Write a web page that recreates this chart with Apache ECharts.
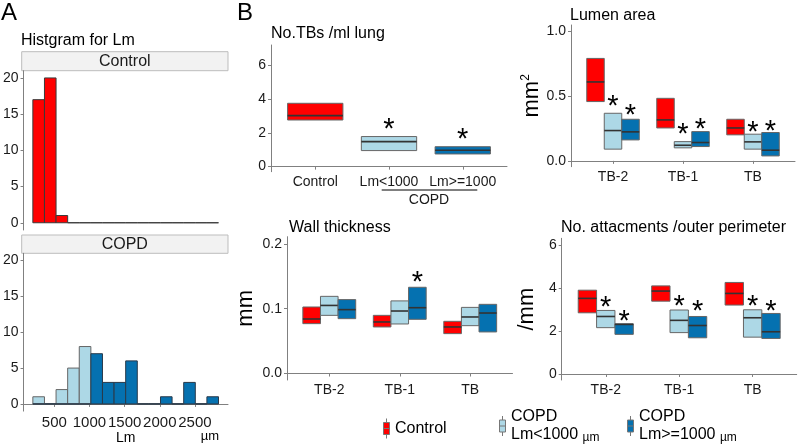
<!DOCTYPE html>
<html>
<head>
<meta charset="utf-8">
<script src="https://cdn.jsdelivr.net/npm/echarts@6/dist/echarts.min.js"></script>
<style>html,body{margin:0;padding:0;background:#fff}#c{width:800px;height:446px}</style>
</head>
<body>
<div id="c"></div>
<script>
// ---------- DATA ----------
// Panel A histogram
const histBinEdges = [195, 360, 525, 690, 855, 1020, 1185, 1350, 1515, 1680, 1845, 2010, 2175, 2340, 2505, 2670, 2835];
const histControl = [17, 20, 1, 0, 0, 0, 0, 0, 0, 0, 0, 0, 0, 0, 0, 0];
const histCopdLow = [1, 0, 2, 5, 8, 0, 0, 0, 0, 0, 0, 0, 0, 0, 0, 0];
const histCopdHigh = [0, 0, 0, 0, 0, 7, 3, 3, 6, 0, 0, 1, 0, 3, 0, 1];
const histXTicks = [500, 1000, 1500, 2000, 2500];
const histYTicks = [0, 5, 10, 15, 20];

// Panel B: No.TBs /ml lung  [Q1, median, Q3]
const tbCats = ['Control', 'Lm<1000', 'Lm>=1000'];
const tbControl = [2.76, 3.02, 3.75];
const tbLow = [0.95, 1.48, 1.78];
const tbHigh = [0.75, 0.97, 1.18];
const tbStars = [[2, 0, 2.57], [3, 0, 1.98]];
const tbYTicks = [0, 2, 4, 6];

// Airway generations
const genCats = ['TB-2', 'TB-1', 'TB'];

// Lumen area [Q1, median, Q3] per generation
const lumenControl = [[0.456, 0.607, 0.788], [0.253, 0.315, 0.481], [0.200, 0.253, 0.320]];
const lumenLow = [[0.090, 0.233, 0.366], [0.100, 0.120, 0.148], [0.090, 0.146, 0.205]];
const lumenHigh = [[0.161, 0.223, 0.320], [0.110, 0.141, 0.225], [0.038, 0.082, 0.218]];
const lumenStars = [[1, 0, 0.468], [1, 1, 0.397], [2, 0, 0.251], [2, 1, 0.294], [3, 0, 0.269], [3, 1, 0.276]];
const lumenYTicks = [0, 0.5, 1.0];

// Wall thickness
const wallControl = [[0.0769, 0.0841, 0.1026], [0.0718, 0.0795, 0.0897], [0.0615, 0.0718, 0.0805]];
const wallLow = [[0.0897, 0.105, 0.119], [0.0764, 0.0964, 0.112], [0.0738, 0.0872, 0.102]];
const wallHigh = [[0.0846, 0.0985, 0.114], [0.0836, 0.1015, 0.133], [0.0641, 0.0933, 0.1067]];
const wallStars = [[2, 1, 0.150]];
const wallYTicks = [0, 0.1, 0.2];

// No. attachments / outer perimeter
const attachControl = [[2.84, 3.51, 3.89], [3.38, 3.85, 4.09], [3.20, 3.74, 4.25]];
const attachLow = [[2.15, 2.67, 2.95], [1.92, 2.49, 2.97], [1.71, 2.61, 2.98]];
const attachHigh = [[1.84, 2.30, 2.33], [1.68, 2.25, 2.67], [1.65, 1.96, 2.81]];
const attachStars = [[1, 0, 3.38], [1, 1, 2.73], [2, 0, 3.43], [2, 1, 3.20], [3, 0, 3.43], [3, 1, 3.20]];
const attachYTicks = [0, 2, 4, 6];

// ---------- STYLE ----------
const FONT = '"Liberation Sans", Arial, sans-serif';
const C_RED = '#FF0000', C_LIGHT = '#ADD8E6', C_DARK = '#0571B0';
const AXIS_COLOR = '#808080';
const LABEL_COLOR = '#1a1a1a';
const STAR_DY = 7;

function histData(counts) {
  return counts.map((c, i) => [histBinEdges[i], histBinEdges[i + 1], c]);
}
function histRender(fill, stroke) {
  return function (params, api) {
    const p0 = api.coord([api.value(0), 0]);
    const p1 = api.coord([api.value(1), api.value(2)]);
    return {
      type: 'rect',
      shape: { x: p0[0], y: p1[1], width: p1[0] - p0[0], height: p0[1] - p1[1] },
      style: { fill: fill, stroke: stroke, lineWidth: 1 }
    };
  };
}
function boxRender(offset, widthFrac, fill) {
  return function (params, api) {
    const c1 = api.coord([api.value(0), api.value(1)]);
    const cm = api.coord([api.value(0), api.value(2)]);
    const c3 = api.coord([api.value(0), api.value(3)]);
    const band = api.size([1, 0])[0];
    const w = band * widthFrac;
    const cx = c1[0] + offset * band;
    return {
      type: 'group',
      children: [
        { type: 'rect', shape: { x: cx - w / 2, y: c3[1], width: w, height: c1[1] - c3[1] },
          style: { fill: fill, stroke: '#666666', lineWidth: 1 } },
        { type: 'line', shape: { x1: cx - w / 2, y1: cm[1], x2: cx + w / 2, y2: cm[1] },
          style: { stroke: '#333333', lineWidth: 1.6 } }
      ]
    };
  };
}
function starRender(params, api) {
  const c = api.coord([api.value(0), api.value(2)]);
  const band = api.size([1, 0])[0];
  return {
    type: 'text',
    x: c[0] + api.value(1) * 0.25 * band,
    y: c[1] + STAR_DY,
    style: { text: '*', fontSize: 29, fontFamily: FONT, fill: '#000', align: 'center', verticalAlign: 'middle' }
  };
}
function boxSeries(name, gridIdx, rows, offset, widthFrac, fill) {
  return {
    type: 'custom', name: name, xAxisIndex: gridIdx, yAxisIndex: gridIdx,
    renderItem: boxRender(offset, widthFrac, fill),
    encode: { x: 0, y: [1, 2, 3] },
    itemStyle: { color: fill },
    data: rows.map((r, i) => [i + 1, r[0], r[1], r[2]])
  };
}
function starSeries(gridIdx, stars) {
  return {
    type: 'custom', xAxisIndex: gridIdx, yAxisIndex: gridIdx,
    renderItem: starRender, encode: { x: 0, y: 2 }, data: stars, silent: true
  };
}

const axisLine = { show: true, lineStyle: { color: AXIS_COLOR, width: 1 } };
const axisTickBase = { show: true, length: 3, lineStyle: { color: AXIS_COLOR, width: 1 } };
const lbl = { color: LABEL_COLOR, fontSize: 14, fontFamily: FONT, hideOverlap: false };

function catXAxis(gridIdx, cats) {
  const vals = cats.map((c, i) => i + 1);
  return {
    type: 'value', gridIndex: gridIdx, min: 0.4, max: 3.6,
    axisLine: axisLine, splitLine: { show: false },
    axisTick: Object.assign({}, axisTickBase, { customValues: vals }),
    axisLabel: Object.assign({}, lbl, { margin: 3, customValues: vals, formatter: v => cats[Math.round(v) - 1] })
  };
}
function valYAxis(gridIdx, min, max, ticks, fmt, name, nameGap) {
  return {
    type: 'value', gridIndex: gridIdx, min: min, max: max,
    axisLine: axisLine, splitLine: { show: false },
    axisTick: Object.assign({}, axisTickBase, { customValues: ticks }),
    axisLabel: Object.assign({}, lbl, { margin: 5, customValues: ticks, formatter: fmt }),
    name: name || '', nameLocation: 'middle', nameGap: nameGap || 0,
    nameTextStyle: { fontSize: 22, color: '#000', fontFamily: FONT,
      rich: { s: { fontSize: 12, fontFamily: FONT, color: '#000', padding: [0, 0, 12, 0] } } }
  };
}

const legendIcon = 'path://M3,0L3,4M0,4L6,4L6,16L0,16ZM0,10L6,10M3,16L3,20';
function legendFor(name, fill, left, top) {
  return {
    left: left, top: top, padding: 0, selectedMode: false, orient: 'horizontal',
    itemWidth: 7, itemHeight: 20,
    data: [{ name: name, icon: legendIcon, itemStyle: { color: fill, borderColor: '#777', borderWidth: 1 } }],
    formatter: function (n) {
      if (n === 'Control') return '{a|Control}';
      const parts = n.split(' ');
      return '{a|' + parts[0] + '}\n{a|' + parts[1] + ' }{u|µm}';
    },
    textStyle: { fontFamily: FONT, color: '#000',
      rich: { a: { fontSize: 16, lineHeight: 18, fontFamily: FONT, color: '#000' },
              u: { fontSize: 12, lineHeight: 18, fontFamily: FONT, color: '#000', verticalAlign: 'bottom' } } }
  };
}

const titleStyle = (size) => ({ fontSize: size, fontWeight: 'normal', color: '#000', fontFamily: FONT });

const option = {
  animation: false,
  textStyle: { fontFamily: FONT },
  title: [
    { text: 'A', left: 1, top: 1, padding: 0, textStyle: titleStyle(24) },
    { text: 'Histgram for Lm', left: 21, top: 33, padding: 0, textStyle: titleStyle(16) },
    { text: 'B', left: 237, top: 1, padding: 0, textStyle: titleStyle(24) },
    { text: 'No.TBs /ml lung', left: 271, top: 26, padding: 0, textStyle: titleStyle(16) },
    { text: 'Lumen area', left: 570, top: 8, padding: 0, textStyle: titleStyle(16) },
    { text: 'Wall thickness', left: 289, top: 220, padding: 0, textStyle: titleStyle(16) },
    { text: 'No. attacments /outer perimeter', left: 561, top: 220, padding: 0, textStyle: titleStyle(16) }
  ],
  legend: [
    legendFor('Control', C_RED, 383, 418),
    legendFor('COPD Lm<1000', C_LIGHT, 499, 409),
    legendFor('COPD Lm>=1000', C_DARK, 627, 409)
  ],
  grid: [
    { left: 21.7, top: 70.7, width: 206.3, height: 159.3 },
    { left: 21.7, top: 253.3, width: 206.3, height: 158.4 },
    { left: 271, top: 45, width: 236, height: 126.7 },
    { left: 571, top: 25, width: 224, height: 141.7 },
    { left: 287, top: 236.7, width: 225.5, height: 143.3 },
    { left: 561.7, top: 238.3, width: 235, height: 141.7 }
  ],
  xAxis: [
    { type: 'value', gridIndex: 0, min: 63, max: 2970, show: false },
    { type: 'value', gridIndex: 1, min: 63, max: 2970, axisLine: axisLine, splitLine: { show: false },
      axisTick: Object.assign({}, axisTickBase, { customValues: histXTicks }),
      axisLabel: Object.assign({}, lbl, { fontSize: 15, margin: 4, customValues: histXTicks, formatter: v => String(v) }),
      name: 'Lm', nameLocation: 'middle', nameGap: 14, nameTextStyle: { fontSize: 14, color: '#000', fontFamily: FONT } },
    catXAxis(2, tbCats),
    catXAxis(3, genCats),
    catXAxis(4, genCats),
    catXAxis(5, genCats)
  ],
  yAxis: [
    valYAxis(0, -1, 21, histYTicks, v => String(v)),
    valYAxis(1, -1, 21, histYTicks, v => String(v)),
    valYAxis(2, -0.3, 7.2, tbYTicks, v => String(v)),
    valYAxis(3, -0.045, 1.045, lumenYTicks, v => v.toFixed(1), 'mm{s|2}', 26),
    valYAxis(4, -0.01, 0.211, wallYTicks, v => v.toFixed(1), 'mm', 30),
    valYAxis(5, -0.28, 6.3, attachYTicks, v => String(v), '/mm', 24)
  ],
  series: [
    { type: 'custom', name: 'Control', xAxisIndex: 0, yAxisIndex: 0, renderItem: histRender(C_RED, '#3a3a3a'),
      encode: { x: [0, 1], y: 2 }, itemStyle: { color: C_RED }, data: histData(histControl) },
    { type: 'custom', name: 'COPD Lm<1000', xAxisIndex: 1, yAxisIndex: 1, renderItem: histRender(C_LIGHT, '#666'),
      encode: { x: [0, 1], y: 2 }, itemStyle: { color: C_LIGHT }, data: histData(histCopdLow) },
    { type: 'custom', name: 'COPD Lm>=1000', xAxisIndex: 1, yAxisIndex: 1, renderItem: histRender(C_DARK, '#2a3a4a'),
      encode: { x: [0, 1], y: 2 }, itemStyle: { color: C_DARK }, data: histData(histCopdHigh) },

    { type: 'custom', name: 'Control', xAxisIndex: 2, yAxisIndex: 2, renderItem: boxRender(0, 0.75, C_RED),
      encode: { x: 0, y: [1, 2, 3] }, itemStyle: { color: C_RED }, data: [[1].concat(tbControl)] },
    { type: 'custom', name: 'COPD Lm<1000', xAxisIndex: 2, yAxisIndex: 2, renderItem: boxRender(0, 0.75, C_LIGHT),
      encode: { x: 0, y: [1, 2, 3] }, itemStyle: { color: C_LIGHT }, data: [[2].concat(tbLow)] },
    { type: 'custom', name: 'COPD Lm>=1000', xAxisIndex: 2, yAxisIndex: 2, renderItem: boxRender(0, 0.75, C_DARK),
      encode: { x: 0, y: [1, 2, 3] }, itemStyle: { color: C_DARK }, data: [[3].concat(tbHigh)] },
    starSeries(2, tbStars),

    boxSeries('Control', 3, lumenControl, -0.25, 0.25, C_RED),
    boxSeries('COPD Lm<1000', 3, lumenLow, 0, 0.25, C_LIGHT),
    boxSeries('COPD Lm>=1000', 3, lumenHigh, 0.25, 0.25, C_DARK),
    starSeries(3, lumenStars),

    boxSeries('Control', 4, wallControl, -0.25, 0.25, C_RED),
    boxSeries('COPD Lm<1000', 4, wallLow, 0, 0.25, C_LIGHT),
    boxSeries('COPD Lm>=1000', 4, wallHigh, 0.25, 0.25, C_DARK),
    starSeries(4, wallStars),

    boxSeries('Control', 5, attachControl, -0.25, 0.25, C_RED),
    boxSeries('COPD Lm<1000', 5, attachLow, 0, 0.25, C_LIGHT),
    boxSeries('COPD Lm>=1000', 5, attachHigh, 0.25, 0.25, C_DARK),
    starSeries(5, attachStars)
  ],
  graphic: [
    { type: 'rect', shape: { x: 21.7, y: 51.7, width: 206.3, height: 19 }, style: { fill: '#F2F2F2', stroke: '#BDBDBD', lineWidth: 1 }, silent: true },
    { type: 'text', x: 124.8, y: 61.5, style: { text: 'Control', fontSize: 16, fontFamily: FONT, fill: '#1a1a1a', align: 'center', verticalAlign: 'middle' }, silent: true },
    { type: 'rect', shape: { x: 21.7, y: 235, width: 206.3, height: 18.3 }, style: { fill: '#F2F2F2', stroke: '#BDBDBD', lineWidth: 1 }, silent: true },
    { type: 'text', x: 124.8, y: 244.5, style: { text: 'COPD', fontSize: 16, fontFamily: FONT, fill: '#1a1a1a', align: 'center', verticalAlign: 'middle' }, silent: true },
    { type: 'text', x: 210, y: 436, style: { text: 'µm', fontSize: 13, fontFamily: FONT, fill: '#000', align: 'center', verticalAlign: 'middle' }, silent: true },
    { type: 'line', shape: { x1: 381.7, y1: 190, x2: 477.3, y2: 190 }, style: { stroke: '#000', lineWidth: 1 }, silent: true },
    { type: 'text', x: 429, y: 200.5, style: { text: 'COPD', fontSize: 14, fontFamily: FONT, fill: '#1a1a1a', align: 'center', verticalAlign: 'middle' }, silent: true }
  ]
};

const chart = echarts.init(document.getElementById('c'), null, { renderer: 'canvas' });
chart.setOption(option);
</script>
</body>
</html>
